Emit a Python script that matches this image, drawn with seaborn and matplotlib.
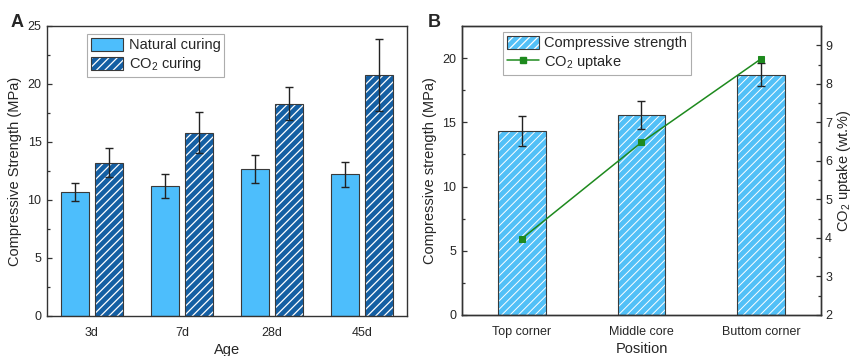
import numpy as np
import pandas as pd
import matplotlib
matplotlib.use("Agg")
import matplotlib.pyplot as plt
import matplotlib.colors as mcolors
from matplotlib.patches import Patch
from matplotlib.lines import Line2D
import seaborn as sns

# ---- data: panel A (strength vs age) ----
ages = ["3d", "7d", "28d", "45d"]
natural_strength = [10.7, 11.2, 12.7, 12.2]
natural_err = [0.8, 1.05, 1.2, 1.05]
co2_strength = [13.2, 15.8, 18.3, 20.8]
co2_err = [1.25, 1.75, 1.42, 3.1]

# ---- data: panel B (strength and uptake vs position) ----
positions = ["Top corner", "Middle core", "Buttom corner"]
pos_strength = [14.3, 15.55, 18.7]
pos_err = [1.17, 1.1, 0.9]
co2_uptake = [3.98, 6.48, 8.65]

sns.set_theme(style="white")
plt.rcParams["font.family"] = ["Liberation Sans", "DejaVu Sans"]
plt.rcParams["mathtext.fontset"] = "custom"
plt.rcParams["mathtext.rm"] = "Liberation Sans"
plt.rcParams["mathtext.it"] = "Liberation Sans:italic"
plt.rcParams["hatch.linewidth"] = 0.9

C_NAT = "#4DBEFC"
C_CO2 = "#145FA3"
C_POS = "#52C0F7"
C_LINE = "#1E8A1E"
C_EDGE = "#3a3a3a"
C_SPINE = "#333333"
TICK_FS = 9
LABEL_FS = 10.5


def hatch_white(patch, edge, lw=None):
    patch.set_edgecolor(edge)
    if hasattr(patch, "set_hatchcolor"):
        patch.set_hatchcolor("white")
    else:
        patch._hatch_color = mcolors.to_rgba("white")
    if lw is not None and hasattr(patch, "set_hatch_linewidth"):
        patch.set_hatch_linewidth(lw)


def style_axes(ax):
    for s in ax.spines.values():
        s.set_visible(True)
        s.set_color(C_SPINE)
        s.set_linewidth(1.0)
    ax.tick_params(axis="y", which="both", direction="in", color=C_SPINE,
                   labelsize=TICK_FS, left=True, length=3.5, width=0.9, pad=4)
    ax.tick_params(axis="y", which="minor", length=2)
    ax.tick_params(axis="x", which="both", bottom=False, labelsize=TICK_FS, pad=2)


fig = plt.figure(figsize=(8.53, 3.56), dpi=100)
axA = fig.add_axes([0.0551, 0.1124, 0.4220, 0.8146])
axB = fig.add_axes([0.5416, 0.1152, 0.4209, 0.8118])

# ---- panel A ----
dfA = pd.DataFrame({
    "Age": ages * 2,
    "Strength": natural_strength + co2_strength,
    "Curing": ["Natural curing"] * 4 + ["CO2 curing"] * 4,
})
sns.barplot(data=dfA, x="Age", y="Strength", hue="Curing", order=ages,
            hue_order=["Natural curing", "CO2 curing"],
            palette=[C_NAT, C_CO2], saturation=1, errorbar=None,
            width=0.76, gap=0.16,
            edgecolor=C_EDGE, linewidth=0.8, legend=False, ax=axA)
bars = axA.patches
nat_bars = bars[:4]
co2_bars = bars[4:8]
for p in co2_bars:
    p.set_hatch("////")
    hatch_white(p, C_EDGE)
for group, vals, errs in ((nat_bars, natural_strength, natural_err),
                          (co2_bars, co2_strength, co2_err)):
    xs = [p.get_x() + p.get_width() / 2 for p in group]
    axA.errorbar(xs, vals, yerr=errs, fmt="none", ecolor="#222222",
                 elinewidth=1.0, capsize=2.8, capthick=1.0, zorder=5)
axA.set_xlim(-0.5, 3.5)
axA.set_ylim(0, 25)
axA.set_yticks(np.arange(0, 26, 5))
axA.set_yticks(np.arange(2.5, 25, 5), minor=True)
axA.set_xlabel("Age", fontsize=LABEL_FS, labelpad=3)
axA.set_ylabel("Compressive Strength (MPa)", fontsize=LABEL_FS, labelpad=4)
style_axes(axA)

h_nat = Patch(facecolor=C_NAT, edgecolor=C_EDGE, linewidth=0.8)
h_co2 = Patch(facecolor=C_CO2, edgecolor=C_EDGE, linewidth=0.8, hatch="////")
hatch_white(h_co2, C_EDGE)
legA = axA.legend([h_nat, h_co2], ["Natural curing", "CO$_2$ curing"],
                  loc="upper left", bbox_to_anchor=(0.111, 0.972),
                  borderaxespad=0, fontsize=LABEL_FS, frameon=True, fancybox=False,
                  handlelength=2.2, handleheight=1.0, labelspacing=0.2,
                  handletextpad=0.4, borderpad=0.25)
legA.get_frame().set_edgecolor("#999999")
legA.get_frame().set_linewidth(0.8)

# ---- panel B ----
dfB = pd.DataFrame({"Position": positions, "Strength": pos_strength})
sns.barplot(data=dfB, x="Position", y="Strength", order=positions,
            color=C_POS, saturation=1, errorbar=None, width=0.40,
            edgecolor=C_EDGE, linewidth=0.8, ax=axB)
for p in axB.patches:
    p.set_hatch("////")
    hatch_white(p, C_EDGE, lw=0.7)
xsB = [p.get_x() + p.get_width() / 2 for p in axB.patches]
axB.errorbar(xsB, pos_strength, yerr=pos_err, fmt="none", ecolor="#222222",
             elinewidth=1.0, capsize=2.8, capthick=1.0, zorder=5)
axB.set_xlim(-0.5, 2.5)
axB.set_ylim(0, 22.5)
axB.set_yticks(np.arange(0, 21, 5))
axB.set_yticks(np.arange(2.5, 22.5, 5), minor=True)
axB.set_xlabel("Position", fontsize=LABEL_FS, labelpad=3)
axB.set_ylabel("Compressive strength (MPa)", fontsize=LABEL_FS, labelpad=4)
style_axes(axB)

axB2 = axB.twinx()
sns.lineplot(x=np.arange(len(positions)), y=co2_uptake, color=C_LINE,
             marker="s", markersize=4.5, markeredgecolor=C_LINE, linewidth=1.1,
             ax=axB2)
axB2.set_ylim(2, 9.5)
axB2.set_yticks(np.arange(2, 10, 1))
axB2.set_yticks(np.arange(2.5, 9.5, 1), minor=True)
axB2.set_ylabel("CO$_2$ uptake (wt.%)", fontsize=LABEL_FS, labelpad=2)
axB2.tick_params(axis="y", which="both", direction="in", color=C_SPINE,
                 labelsize=TICK_FS, right=True, length=3.5, width=0.9, pad=3)
axB2.tick_params(axis="y", which="minor", length=2)
for s in axB2.spines.values():
    s.set_color(C_SPINE)
    s.set_linewidth(1.0)
axB2.set_xlim(-0.5, 2.5)

h_bar = Patch(facecolor=C_POS, edgecolor=C_EDGE, linewidth=0.8, hatch="////")
hatch_white(h_bar, C_EDGE, lw=0.7)
h_line = Line2D([], [], color=C_LINE, marker="s", markersize=4.5, linewidth=1.1)
legB = axB2.legend([h_bar, h_line], ["Compressive strength", "CO$_2$ uptake"],
                   loc="upper left", bbox_to_anchor=(0.114, 0.979),
                   borderaxespad=0, fontsize=LABEL_FS, frameon=True, fancybox=False,
                   handlelength=2.2, handleheight=1.0, labelspacing=0.2,
                   handletextpad=0.4, borderpad=0.25)
legB.get_frame().set_edgecolor("#999999")
legB.get_frame().set_linewidth(0.8)

# panel letters
fig.text(0.012, 0.925, "A", fontsize=13, fontweight="bold")
fig.text(0.502, 0.925, "B", fontsize=13, fontweight="bold")

fig.savefig("out.png", dpi=100)
